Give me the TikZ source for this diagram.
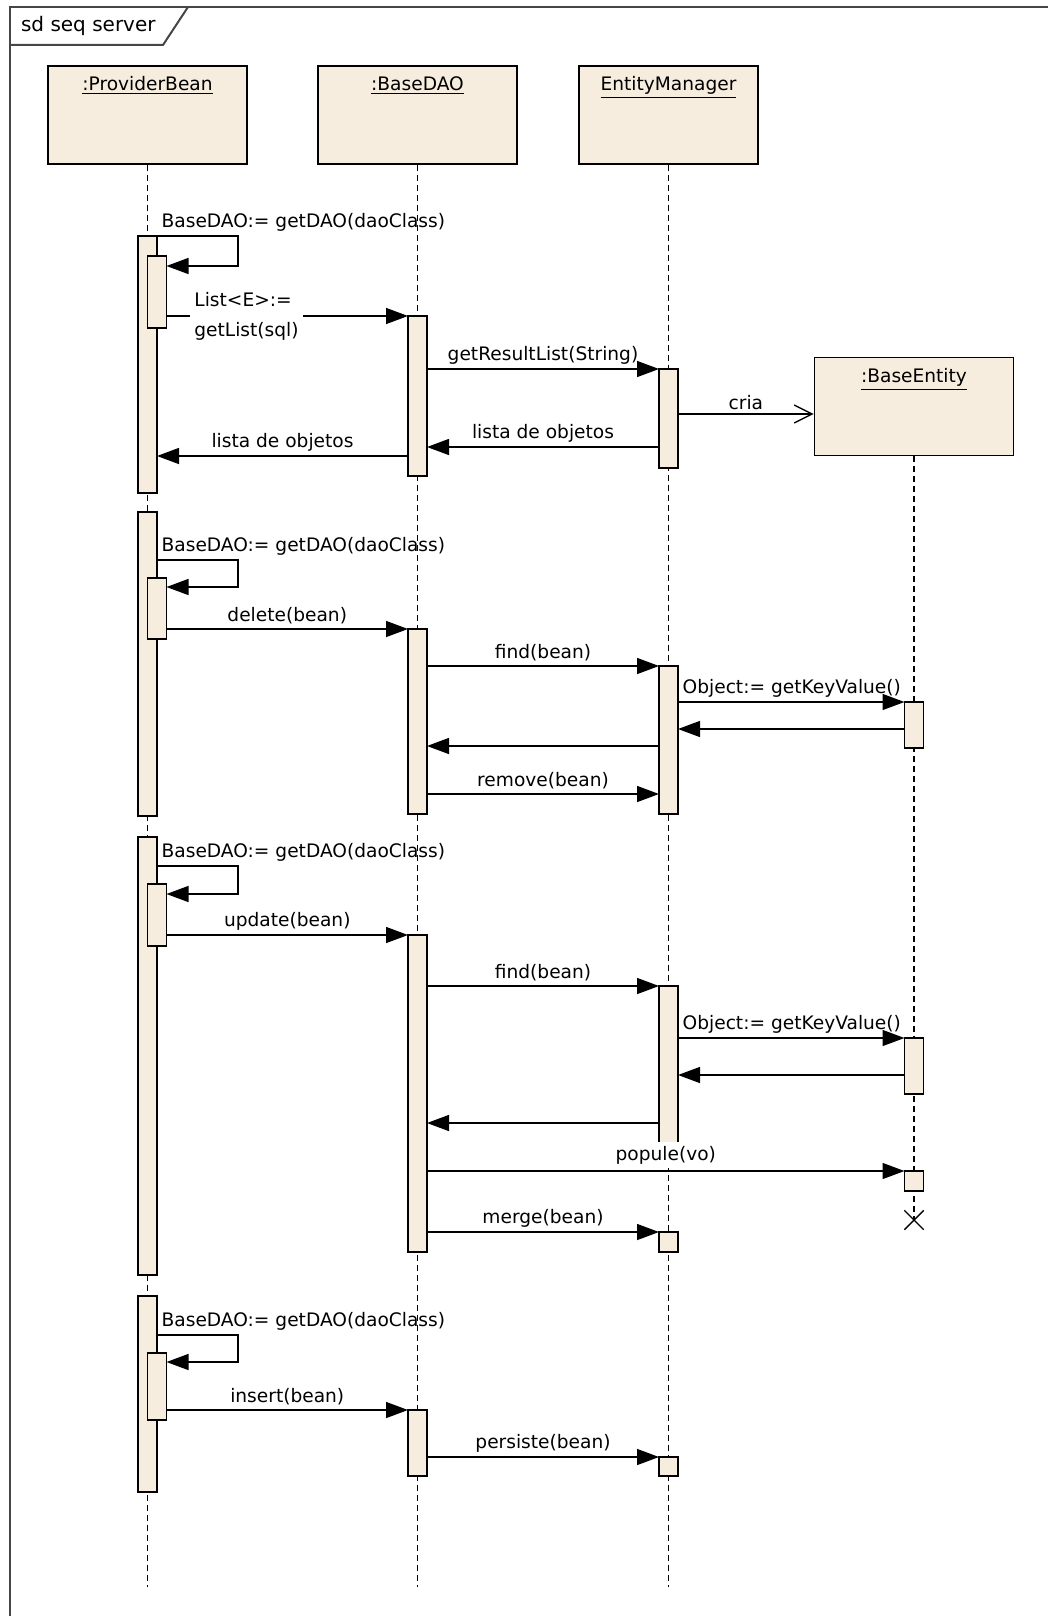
\documentclass[tikz,border=0pt]{standalone}
\usepackage{fontspec}
\setmainfont{DejaVu Sans}
\usepackage{xcolor}
\usepackage{tikz}
\usetikzlibrary{positioning, arrows.meta, fit, shapes.misc}

\definecolor{umlbeige}{RGB}{246,237,222}
\definecolor{framegray}{RGB}{70,70,70}

% activation bar: name, x of lifeline, top, bottom
\newcommand{\act}[4]{\node[act, fit={({#2-9.5},#3) ({#2+9.5},#4)}] (#1) {};}

\begin{document}
\begin{tikzpicture}[x=0.5pt, y=-0.5pt, >=Stealth,
    font=\fontsize{9.3}{11}\selectfont,
    head/.style={draw, fill=umlbeige, line width=0.8pt, minimum width=99.5pt, minimum height=49pt},
    headname/.style={inner sep=2pt},
    lifeline/.style={line width=0.7pt, dash pattern=on 3pt off 2pt},
    act/.style={draw, fill=umlbeige, line width=0.75pt, inner sep=0pt, outer sep=0pt},
    msg/.style={-{Triangle[length=11pt,width=8pt]}, line width=0.7pt},
    create/.style={-{Straight Barb[length=9pt,width=9pt]}, line width=0.7pt},
    lbl/.style={inner sep=2pt},
    frame/.style={draw=framegray, line width=1pt},
    destroy/.style={cross out, draw, line width=0.7pt, minimum size=9pt, inner sep=0pt}]
    \useasboundingbox (0,0) rectangle (1048,1616);

    \draw[frame] (10,1616) -- (10,7) -- (1048,7);
    \draw[frame] (10,45) -- (163,45) -- (188,7);
    \node[anchor=west, font=\fontsize{10}{12}\selectfont] (title) at (14,26) {sd seq server};

    \node[head] (pb) at (147.5,115) {};
    \node[headname, below=3.5pt of pb.north] (pbname) {\underline{:ProviderBean}};
    \node[head] (dao) at (417.5,115) {};
    \node[headname, below=3.5pt of dao.north] (daoname) {\underline{:BaseDAO}};
    \node[head, minimum width=89.5pt] (em) at (668.5,115) {};
    \node[headname, below=3.5pt of em.north] (emname) {\underline{EntityManager}};
    \node[head] (ent) at (914,406.5) {};
    \node[headname, below=3.5pt of ent.north] (entname) {\underline{:BaseEntity}};

    \coordinate (bottom) at (0,1587);
    \node[destroy] (entx) at (914,1220) {};

    \draw[lifeline] (pb) -- (pb |- bottom);
    \draw[lifeline] (dao) -- (dao |- bottom);
    \draw[lifeline] (em) -- (em |- bottom);
    \draw[lifeline] (ent) -- (entx.center);

    % getList
    \act{pb1}{147.5}{236}{493}
    \act{pb1s}{157}{256}{328}
    \act{dao1}{417.5}{316}{476}
    \act{em1}{668.5}{369}{468}

    \draw[msg] (pb1.north east) -- node[lbl, pos=0, anchor=south west] {BaseDAO:= getDAO(daoClass)} (238,236) -- (238,266) -- (pb1s.east |- 0,266);
    \draw[msg] (pb1s.east |- 0,316) -- (dao1.west |- 0,316);
    \node[lbl, fill=white, align=left, anchor=west] (getlist) at (190,316) {List<E>:=\\[4pt]getList(sql)};
    \draw[msg] (dao1.east |- 0,369) -- node[lbl, above] {getResultList(String)} (em1.west |- 0,369);
    \draw[create] (em1.east |- 0,414) -- node[lbl, above] {cria} (ent.west |- 0,414);
    \draw[msg] (em1.west |- 0,447) -- node[lbl, above] {lista de objetos} (dao1.east |- 0,447);
    \draw[msg] (dao1.west |- 0,456) -- node[lbl, above] {lista de objetos} (pb1.east |- 0,456);

    % delete
    \act{pb2}{147.5}{512}{816}
    \act{pb2s}{157}{578}{639}
    \act{dao2}{417.5}{629}{814}
    \act{em2}{668.5}{666}{814}
    \act{ent2}{914}{702}{748}

    \draw[msg] (pb2.east |- 0,560) -- node[lbl, pos=0, anchor=south west] {BaseDAO:= getDAO(daoClass)} (238,560) -- (238,587) -- (pb2s.east |- 0,587);
    \draw[msg] (pb2s.east |- 0,629) -- node[lbl, above] {delete(bean)} (dao2.west |- 0,629);
    \draw[msg] (dao2.east |- 0,666) -- node[lbl, above] {find(bean)} (em2.west |- 0,666);
    \draw[msg] (em2.east |- 0,702) -- node[lbl, pos=0, anchor=south west] {Object:= getKeyValue()} (ent2.north west);
    \draw[msg] (ent2.west |- 0,729) -- (em2.east |- 0,729);
    \draw[msg] (em2.west |- 0,746) -- (dao2.east |- 0,746);
    \draw[msg] (dao2.east |- 0,794) -- node[lbl, above] {remove(bean)} (em2.west |- 0,794);

    % update
    \act{pb3}{147.5}{837}{1275}
    \act{pb3s}{157}{884}{946}
    \act{dao3}{417.5}{935}{1252}
    \act{em3}{668.5}{986}{1160}
    \act{ent3}{914}{1038}{1094}
    \act{ent3p}{914}{1171}{1191}
    \act{em3m}{668.5}{1232}{1252}

    \draw[msg] (pb3.east |- 0,866) -- node[lbl, pos=0, anchor=south west] {BaseDAO:= getDAO(daoClass)} (238,866) -- (238,894) -- (pb3s.east |- 0,894);
    \draw[msg] (pb3s.east |- 0,935) -- node[lbl, above] {update(bean)} (dao3.west |- 0,935);
    \draw[msg] (dao3.east |- 0,986) -- node[lbl, above] {find(bean)} (em3.west |- 0,986);
    \draw[msg] (em3.east |- 0,1038) -- node[lbl, pos=0, anchor=south west] {Object:= getKeyValue()} (ent3.north west);
    \draw[msg] (ent3.west |- 0,1075) -- (em3.east |- 0,1075);
    \draw[msg] (em3.west |- 0,1123) -- (dao3.east |- 0,1123);
    \draw[msg] (dao3.east |- 0,1171) -- node[lbl, above, fill=white, yshift=1pt] {popule(vo)} (ent3p.north west);
    \draw[msg] (dao3.east |- 0,1232) -- node[lbl, above] {merge(bean)} (em3m.north west);

    % insert
    \act{pb4}{147.5}{1296}{1492}
    \act{pb4s}{157}{1353}{1420}
    \act{dao4}{417.5}{1410}{1476}
    \act{em4}{668.5}{1457}{1476}

    \draw[msg] (pb4.east |- 0,1335) -- node[lbl, pos=0, anchor=south west] {BaseDAO:= getDAO(daoClass)} (238,1335) -- (238,1362) -- (pb4s.east |- 0,1362);
    \draw[msg] (pb4s.east |- 0,1410) -- node[lbl, above] {insert(bean)} (dao4.north west);
    \draw[msg] (dao4.east |- 0,1457) -- node[lbl, above] {persiste(bean)} (em4.north west);
\end{tikzpicture}
\end{document}
